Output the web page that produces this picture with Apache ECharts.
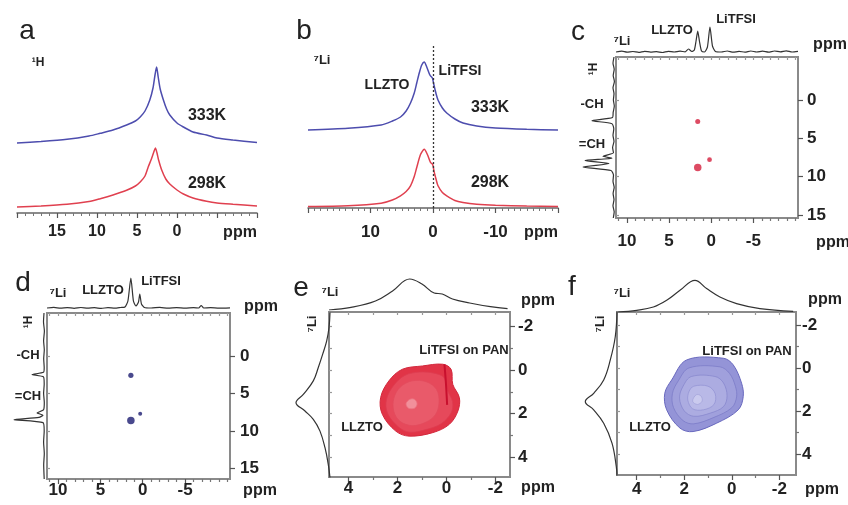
<!DOCTYPE html>
<html><head><meta charset="utf-8">
<script src="https://cdn.jsdelivr.net/npm/echarts@6/dist/echarts.min.js"></script>
<style>html,body{margin:0;padding:0;background:#fff}#c{width:848px;height:505px}</style>
</head><body><div id="c"></div><script>
// ---------------- DATA ----------------
// Panel a: 1H spectra, [ppm, intensity above own baseline]
const a333K = [[20,0],[17,1.5],[13.75,3.7],[11,7],[9.6,9.7],[8,13],[6.3,18],[5.2,22],[4.6,26],[4,32],[3.4,43],[3.0,55],[2.75,68],[2.55,76],[2.35,66],[2.1,54],[1.7,43],[1.3,34],[0.9,28],[0,20],[-0.8,16],[-2,11],[-3.7,8],[-5,5],[-7,3],[-10,0.5]];
const a298K = [[20,0],[17,1],[13.75,2.7],[11,5.5],[9.6,8.3],[8,12],[6.3,16.7],[5.2,21],[4.6,25],[4,31],[3.6,40],[3.2,48],[2.9,55],[2.7,59],[2.5,54],[2.3,47],[1.9,36.7],[1.4,28],[0.9,23],[0,17],[-0.8,13],[-2,9],[-3.7,5.7],[-5,4],[-7,2.7],[-10,1]];
const aTicks = [15,10,5,0];
// Panel b: 7Li spectra
const b333K = [[20,0],[13.6,1.7],[8.3,5],[6.5,9],[5.2,13],[4.3,19],[3.6,27],[3.0,37],[2.6,47],[2.2,57],[1.8,65],[1.4,68],[1.0,63],[0.5,55],[0.1,52],[-0.15,45],[-0.5,36],[-0.8,30],[-1.5,22],[-2.2,17],[-3.5,11],[-4.8,7],[-7,4],[-10,2],[-15,0.7],[-20,0]];
const b298K = [[20,0],[13.6,0.7],[8.3,3.3],[6.5,6.5],[5.2,10.7],[4.3,15],[3.6,20.7],[3.0,30],[2.6,39],[2.0,52],[1.4,57.3],[0.9,52],[0.4,44],[0.05,42],[-0.15,35.7],[-0.5,27],[-0.8,20.7],[-1.5,14],[-2.2,10.7],[-3.5,6],[-4.8,4],[-7,2.3],[-10,1.3],[-15,0.5],[-20,0]];
const bTicks = [10,0,-10];
// Panels c, d: 7Li-1H correlation
const cdXTicks = [10,5,0,-5];
const cdXMinor = [11,9,8,7,6,4,3,2,1,-1,-2,-3,-4,-6,-7,-8,-9,-10];
const cdYTicks = [0,5,10,15];
const cTop = [[11.3,1],[10.6,1.8],[10,0.8],[9.3,1.5],[8.6,0.6],[7.9,1.7],[7.2,0.9],[6.5,1.4],[5.8,0.5],[5.1,1.6],[4.4,1],[3.7,1.8],[3.1,1.2],[2.7,4],[2.3,1.5],[2.0,3],[1.8,12],[1.6,22],[1.4,12],[1.15,2],[0.8,1],[0.45,6],[0.15,26],[-0.15,7],[-0.5,1.6],[-1.2,1],[-1.9,2],[-2.6,0.8],[-3.3,1.6],[-4,0.9],[-4.7,2],[-5.4,1],[-6.1,1.8],[-6.8,0.8],[-7.5,2],[-8.2,1.2],[-8.9,2.2],[-9.6,1],[-10.3,1.6]];
const cLeft = [[1,-5.6],[2,-4.8],[0.8,-4],[1.8,-3.2],[0.6,-2.4],[2,-1.6],[1,-0.8],[1.6,0],[0.7,0.8],[1.8,1.6],[2.5,2.3],[23,2.7],[3,3.1],[1.2,3.8],[2,4.6],[1,5.4],[2.4,6.2],[1.5,6.9],[12,7.35],[3,7.6],[30,7.9],[6,8.3],[32,8.75],[4,9.2],[1.5,9.8],[2,10.6],[0.8,11.4],[1.9,12.2],[1,13],[2,13.8],[0.8,14.6],[1.7,15.4]];
const cCross = [[1.6,2.8,0.5],[1.6,8.8,1.0],[0.2,7.8,0.45]];
const dTop = [[11.3,1],[10.5,1.6],[9.7,0.8],[8.9,1.4],[8.1,0.7],[7.3,1.5],[6.5,0.8],[5.7,1.3],[4.9,0.6],[4.1,1.4],[3.3,0.8],[2.6,1.5],[2.1,2],[1.75,8],[1.4,31],[1.1,8],[0.8,3],[0.5,7],[0.35,15],[0.15,5],[-0.2,1.5],[-1,1],[-2,1.6],[-3,0.8],[-4,1.4],[-5,0.8],[-6,1.3],[-6.6,1],[-6.9,3.5],[-7.2,1],[-8,1.3],[-9,0.8],[-10.3,1.2]];
const dLeft = [[1,-5.7],[1.5,-4.5],[0.6,-3.3],[1.4,-2],[0.7,-0.8],[1.3,0.4],[0.8,1.6],[1.5,2.2],[13,2.5],[1.5,2.8],[0.8,3.8],[1.4,5],[0.7,6.2],[1.5,7.2],[8,7.6],[2,7.9],[6,8.2],[31,8.5],[2,8.9],[0.8,10],[1.4,11.5],[0.7,13],[1.3,14.5],[0.8,16.4]];
const dCross = [[1.4,2.6,0.55],[1.4,8.6,1.0],[0.3,7.7,0.3]];
// Panels e, f: 7Li-7Li exchange
const efXTicks = [4,2,0,-2];
const efXMinor = [3,1,-1];
const efYTicks = [-2,0,2,4];
const efYMinor = [-1,1,3];
const eTop = [[4.8,0],[3.9,2.6],[2.9,9],[2.2,19],[1.5,31],[1.0,26],[0.5,17],[0.17,16],[-0.25,11],[-0.95,7],[-1.8,3.3],[-2.5,1.3]];
const eLeft = [[0,-2.63],[1,-1.94],[3.3,-1.33],[7.3,-0.72],[11.7,-0.11],[16.7,0.5],[26.7,1.12],[34,1.5],[25,1.88],[16.7,2.26],[10,2.8],[5,3.56],[1.7,4.33],[0,4.94]];
const eRing1 = [[0.15,-0.26],[-0.19,-0.03],[-0.26,0.66],[-0.53,1.27],[-0.47,1.88],[-0.12,2.49],[0.56,2.87],[1.52,3.03],[2.07,2.80],[2.62,2.03],[2.69,1.27],[2.35,0.50],[1.80,-0.03],[0.98,-0.18]];
const eRing2 = [[0.5,0.15],[0.1,0.35],[-0.05,0.95],[-0.25,1.45],[-0.2,1.95],[0.2,2.45],[0.8,2.72],[1.5,2.85],[1.95,2.62],[2.4,2.0],[2.45,1.35],[2.15,0.7],[1.7,0.25],[1.1,0.1]];
const eRing3 = [[0.8,0.55],[0.4,0.9],[0.3,1.5],[0.45,2.05],[0.85,2.4],[1.4,2.55],[1.9,2.35],[2.15,1.9],[2.15,1.3],[1.9,0.8],[1.4,0.5]];
const eRing4 = [[1.3,1.35],[1.2,1.55],[1.3,1.75],[1.55,1.75],[1.65,1.55],[1.5,1.35]];
const eRidge = [[0.08,-0.25],[0.02,0.6],[-0.03,1.6]];
const fTop = [[4.78,0],[4.0,1.7],[3.3,5],[2.74,11.7],[2.18,21.7],[1.55,31.7],[1.06,23.4],[0.5,15],[-0.2,8.4],[-1.18,3.4],[-2.58,0.7]];
const fLeft = [[0,-2.62],[1.7,-1.46],[6.7,-0.37],[13.3,0.56],[23.3,1.18],[31.7,1.57],[23.3,1.95],[13.3,2.57],[5,3.5],[0.7,4.59],[0,5.05]];
const fRing1 = [[1.90,-0.37],[0.36,-0.45],[-0.06,-0.14],[-0.41,0.71],[-0.48,1.33],[-0.27,1.95],[0.64,2.57],[1.63,2.96],[2.18,2.80],[2.74,1.95],[2.82,1.18],[2.53,0.56]];
const fRing2 = [[1.8,0.0],[0.5,-0.05],[0.1,0.25],[-0.15,0.85],[-0.2,1.35],[0.0,1.85],[0.75,2.3],[1.6,2.6],[2.05,2.45],[2.45,1.85],[2.5,1.2],[2.25,0.6]];
const fRing3 = [[1.7,0.4],[0.7,0.4],[0.35,0.7],[0.2,1.3],[0.35,1.8],[0.9,2.1],[1.6,2.25],[2.0,2.0],[2.2,1.4],[2.05,0.85]];
const fRing4 = [[1.6,0.85],[1.0,0.85],[0.7,1.2],[0.75,1.7],[1.2,1.95],[1.65,1.9],[1.85,1.5],[1.8,1.1]];
const fRing5 = [[1.5,1.25],[1.3,1.3],[1.25,1.55],[1.45,1.7],[1.65,1.55]];

// ---------------- LAYOUT / STYLE ----------------
const FONT = '"Liberation Sans", Arial, "DejaVu Sans", sans-serif';
const INK = '#222';
const BLUE = '#4d4dae', RED = '#e0404f';
const grid = [], xAxis = [], yAxis = [], series = [], graphic = [];

function G(left, top, width, height, box) {
  grid.push({left, top, width, height, containLabel:false, show: !!box,
    borderColor:'#8a8a8a', borderWidth: box ? 2 : 0, backgroundColor:'rgba(0,0,0,0)'});
  return grid.length - 1;
}
function X(o){ xAxis.push(Object.assign({type:'value', splitLine:{show:false}}, o)); return xAxis.length-1; }
function Y(o){ yAxis.push(Object.assign({type:'value', splitLine:{show:false}}, o)); return yAxis.length-1; }
const NOLINE = {show:false, onZero:false};
const HID = {show:false, axisLine:NOLINE, axisTick:{show:false}, axisLabel:{show:false}};
const lbl = (size, margin, vals) => ({show:true, fontSize:size, fontWeight:'bold', color:INK, fontFamily:FONT, margin, customValues: vals});
const tk = (vals, len, color) => ({show:true, customValues: vals, length: len, lineStyle:{color: color || '#555', width:1.2}});

function line(xi, yi, data, color, width, smooth) {
  const s = {type:'line', xAxisIndex:xi, yAxisIndex:yi, data, showSymbol:false, symbol:'none',
    smooth: smooth === undefined ? 0.3 : smooth, lineStyle:{color, width}, silent:true, z:3};
  series.push(s); return s;
}
function ring(xi, yi, pts, fill, stroke, lw, z) {
  series.push({type:'custom', xAxisIndex:xi, yAxisIndex:yi, data: pts, silent:true, z, clip:true,
    renderItem(params, api) {
      if (params.dataIndex !== 0) return null;
      return {type:'polygon', shape:{points: pts.map(p => api.coord(p)), smooth:0.35},
        style:{fill, stroke, lineWidth: lw}};
    }});
}
function T(text, x, y, size, weight, rot) {
  graphic.push({type:'text', x, y, rotation: rot || 0, silent:true, z:100,
    style:{text, x:0, y:0, fill:INK, font: (weight||'bold') + ' ' + size + 'px ' + FONT,
      align:'center', verticalAlign:'middle', textAlign:'center', textVerticalAlign:'middle'}});
}

// ---- panel a ----
const A_OFF = {hot:70, rt:6};
const gA = G(17, 40, 240, 173);
const xA = X({gridIndex:gA, inverse:true, min:-10, max:20, interval:5,
  axisLine:{onZero:false, lineStyle:{color:'#666', width:1.5}}, axisTick:{length:5, lineStyle:{color:'#555', width:1.2}},
  minorTick:{show:true, splitNumber:5, length:3, lineStyle:{color:'#777'}},
  axisLabel: lbl(16, 11, aTicks)});
const yA = Y(Object.assign({gridIndex:gA, min:0, max:173}, HID));
line(xA, yA, a333K.map(p => [p[0], p[1] + A_OFF.hot]), BLUE, 1.5, 0.25);
line(xA, yA, a298K.map(p => [p[0], p[1] + A_OFF.rt]), RED, 1.5, 0.25);

// ---- panel b ----
const B_OFF = {hot:78, rt:1.5};
const gB = G(308, 45, 250, 163);
const xB = X({gridIndex:gB, inverse:true, min:-20, max:20, interval:10,
  axisLine:{onZero:false, lineStyle:{color:'#666', width:1.5}}, axisTick:{length:5, lineStyle:{color:'#555', width:1.2}},
  minorTick:{show:true, splitNumber:10, length:3, lineStyle:{color:'#777'}},
  axisLabel: lbl(17, 16, bTicks)});
const yB = Y(Object.assign({gridIndex:gB, min:0, max:163}, HID));
const sb = line(xB, yB, b333K.map(p => [p[0], p[1] + B_OFF.hot]), BLUE, 1.5, 0.25);
sb.markLine = {silent:true, symbol:['none','none'], label:{show:false},
  lineStyle:{type:[2,2], color:'#333', width:1.3}, data:[{xAxis:0}]};
line(xB, yB, b298K.map(p => [p[0], p[1] + B_OFF.rt]), RED, 1.5, 0.25);

// ---- 2D box helper ----
function box(b) {
  const gi = G(b.left, b.top, b.w, b.h, true);
  const xi = X({gridIndex:gi, inverse:true, min:b.xr[0], max:b.xr[1], position:'bottom',
    axisLine:NOLINE, axisTick: tk(b.xt, 5), axisLabel: lbl(17, b.xm, b.xt)});
  X({gridIndex:gi, inverse:true, min:b.xr[0], max:b.xr[1], position:'bottom',
    axisLine:NOLINE, axisTick: tk(b.xmin, 3, '#777'), axisLabel:{show:false}});
  X({gridIndex:gi, inverse:true, min:b.xr[0], max:b.xr[1], position:'top',
    axisLine:NOLINE, axisTick: Object.assign(tk(b.xt.concat(b.xmin), 3, '#999'), {inside:true}), axisLabel:{show:false}});
  const yi = Y({gridIndex:gi, inverse:true, min:b.yr[0], max:b.yr[1], position:'right',
    axisLine:NOLINE, axisTick: tk(b.yt, 5), axisLabel: lbl(17, b.ym, b.yt)});
  if (b.ymin) Y({gridIndex:gi, inverse:true, min:b.yr[0], max:b.yr[1], position:'right',
    axisLine:NOLINE, axisTick: tk(b.ymin, 3, '#777'), axisLabel:{show:false}});
  Y({gridIndex:gi, inverse:true, min:b.yr[0], max:b.yr[1], position:'left',
    axisLine:NOLINE, axisTick: Object.assign(tk(b.yt.concat(b.ymin || []), 3, '#999'), {inside:true}), axisLabel:{show:false}});
  // top projection
  const gt = G(b.left, b.top - b.th - b.tgap, b.w, b.th);
  const xt = X(Object.assign({gridIndex:gt, inverse:true, min:b.xr[0], max:b.xr[1]}, HID));
  const yt = Y(Object.assign({gridIndex:gt, min:0, max:b.th}, HID));
  line(xt, yt, b.top1d, '#333', 1.2, b.sm);
  // left projection
  const gl = G(b.left - b.lgap - 40, b.top, 40, b.h);
  const xl = X(Object.assign({gridIndex:gl, inverse:true, min:0, max:40}, HID));
  const yl = Y(Object.assign({gridIndex:gl, inverse:true, min:b.yr[0], max:b.yr[1]}, HID));
  line(xl, yl, b.left1d, '#333', 1.2, b.sm);
  return {xi, yi};
}

// ---- panel c ----
const C = box({left:616, top:57, w:182, h:161, xr:[-10.3,11.3], yr:[-5.6,15.4],
  xt:cdXTicks, xmin:cdXMinor, yt:cdYTicks, xm:15, ym:9, th:38, tgap:4, lgap:1,
  top1d:cTop, left1d:cLeft, sm:0.2});
series.push({type:'scatter', xAxisIndex:C.xi, yAxisIndex:C.yi, data:cCross, silent:true,
  symbolSize: v => 2.5 + 5 * v[2], itemStyle:{color:'#d41e3c'}, z:5});

// ---- panel d ----
const D = box({left:47, top:313, w:183, h:166, xr:[-10.3,11.3], yr:[-5.7,16.4],
  xt:cdXTicks, xmin:cdXMinor, yt:cdYTicks, xm:3, ym:10, th:38, tgap:4, lgap:2,
  top1d:dTop, left1d:dLeft, sm:0.2});
series.push({type:'scatter', xAxisIndex:D.xi, yAxisIndex:D.yi, data:dCross, silent:true,
  symbolSize: v => 2.5 + 5 * v[2], itemStyle:{color:'#1c1c70'}, z:5});

// ---- panel e ----
const E = box({left:329, top:312, w:181, h:165, xr:[-2.6,4.8], yr:[-2.65,4.9],
  xt:efXTicks, xmin:efXMinor, yt:efYTicks, ymin:efYMinor, xm:3, ym:8, th:40, tgap:2, lgap:-1,
  top1d:eTop, left1d:eLeft, sm:0.4});
ring(E.xi, E.yi, eRing1, '#e13447', '#d3283c', 1, 4);
ring(E.xi, E.yi, eRing2, '#e6495b', '#dd3c50', 0.8, 5);
ring(E.xi, E.yi, eRing3, '#e95a6a', '#e24b5d', 0.8, 6);
ring(E.xi, E.yi, eRing4, '#f1909b', '#ec7482', 0.8, 7);
line(E.xi, E.yi, eRidge, '#c8102e', 2, 0.3).z = 8;

// ---- panel f ----
const F = box({left:617, top:312, w:179, h:163, xr:[-2.7,4.83], yr:[-2.6,4.98],
  xt:efXTicks, xmin:efXMinor, yt:efYTicks, ymin:efYMinor, xm:6, ym:6, th:42, tgap:0, lgap:0,
  top1d:fTop, left1d:fLeft, sm:0.4});
ring(F.xi, F.yi, fRing1, '#9494d7', '#6868be', 1, 4);
ring(F.xi, F.yi, fRing2, '#a0a0dc', '#7878c6', 0.7, 5);
ring(F.xi, F.yi, fRing3, '#acace1', '#8484cc', 0.7, 6);
ring(F.xi, F.yi, fRing4, '#b9b9e7', '#9090d2', 0.7, 7);
ring(F.xi, F.yi, fRing5, '#cacaee', '#a0a0d8', 0.7, 8);

// ---- texts ----
T('a', 27, 31, 28, 'normal'); T('\u00B9H', 38, 63, 12);
T('333K', 207, 116, 16); T('298K', 207, 184, 16); T('ppm', 240, 233, 16);
T('b', 304, 31, 28, 'normal'); T('\u2077Li', 322, 60, 13);
T('LLZTO', 387, 85, 14); T('LiTFSI', 460, 71, 14);
T('333K', 490, 108, 16); T('298K', 490, 183, 16); T('ppm', 541, 233, 16);
T('c', 578, 32, 28, 'normal'); T('\u2077Li', 622, 41, 13);
T('LLZTO', 672, 30, 13); T('LiTFSI', 736, 19, 13);
T('ppm', 830, 45, 16); T('ppm', 833, 243, 16);
T('\u00B9H', 594, 69, 12, 'bold', Math.PI/2); T('-CH', 592, 104, 13); T('=CH', 592, 144, 13);
T('d', 23, 283, 28, 'normal'); T('\u2077Li', 58, 293, 13);
T('LLZTO', 103, 290, 13); T('LiTFSI', 161, 281, 13);
T('ppm', 261, 307, 16); T('ppm', 260, 491, 16);
T('\u00B9H', 29, 322, 12, 'bold', Math.PI/2); T('-CH', 28, 355, 13); T('=CH', 28, 396, 13);
T('e', 301, 288, 28, 'normal'); T('\u2077Li', 330, 292, 13);
T('\u2077Li', 312, 324, 13, 'bold', Math.PI/2);
T('LiTFSI on PAN', 464, 350, 13); T('LLZTO', 362, 427, 13);
T('ppm', 538, 301, 16); T('ppm', 538, 488, 16);
T('f', 572, 287, 28, 'normal'); T('\u2077Li', 622, 293, 13);
T('\u2077Li', 600, 324, 13, 'bold', Math.PI/2);
T('LiTFSI on PAN', 747, 351, 13); T('LLZTO', 650, 427, 13);
T('ppm', 825, 300, 16); T('ppm', 822, 490, 16);

const chart = echarts.init(document.getElementById('c'), null, {renderer:'canvas', width:848, height:505});
chart.setOption({animation:false, backgroundColor:'#fff', grid, xAxis, yAxis, series, graphic});
</script></body></html>
